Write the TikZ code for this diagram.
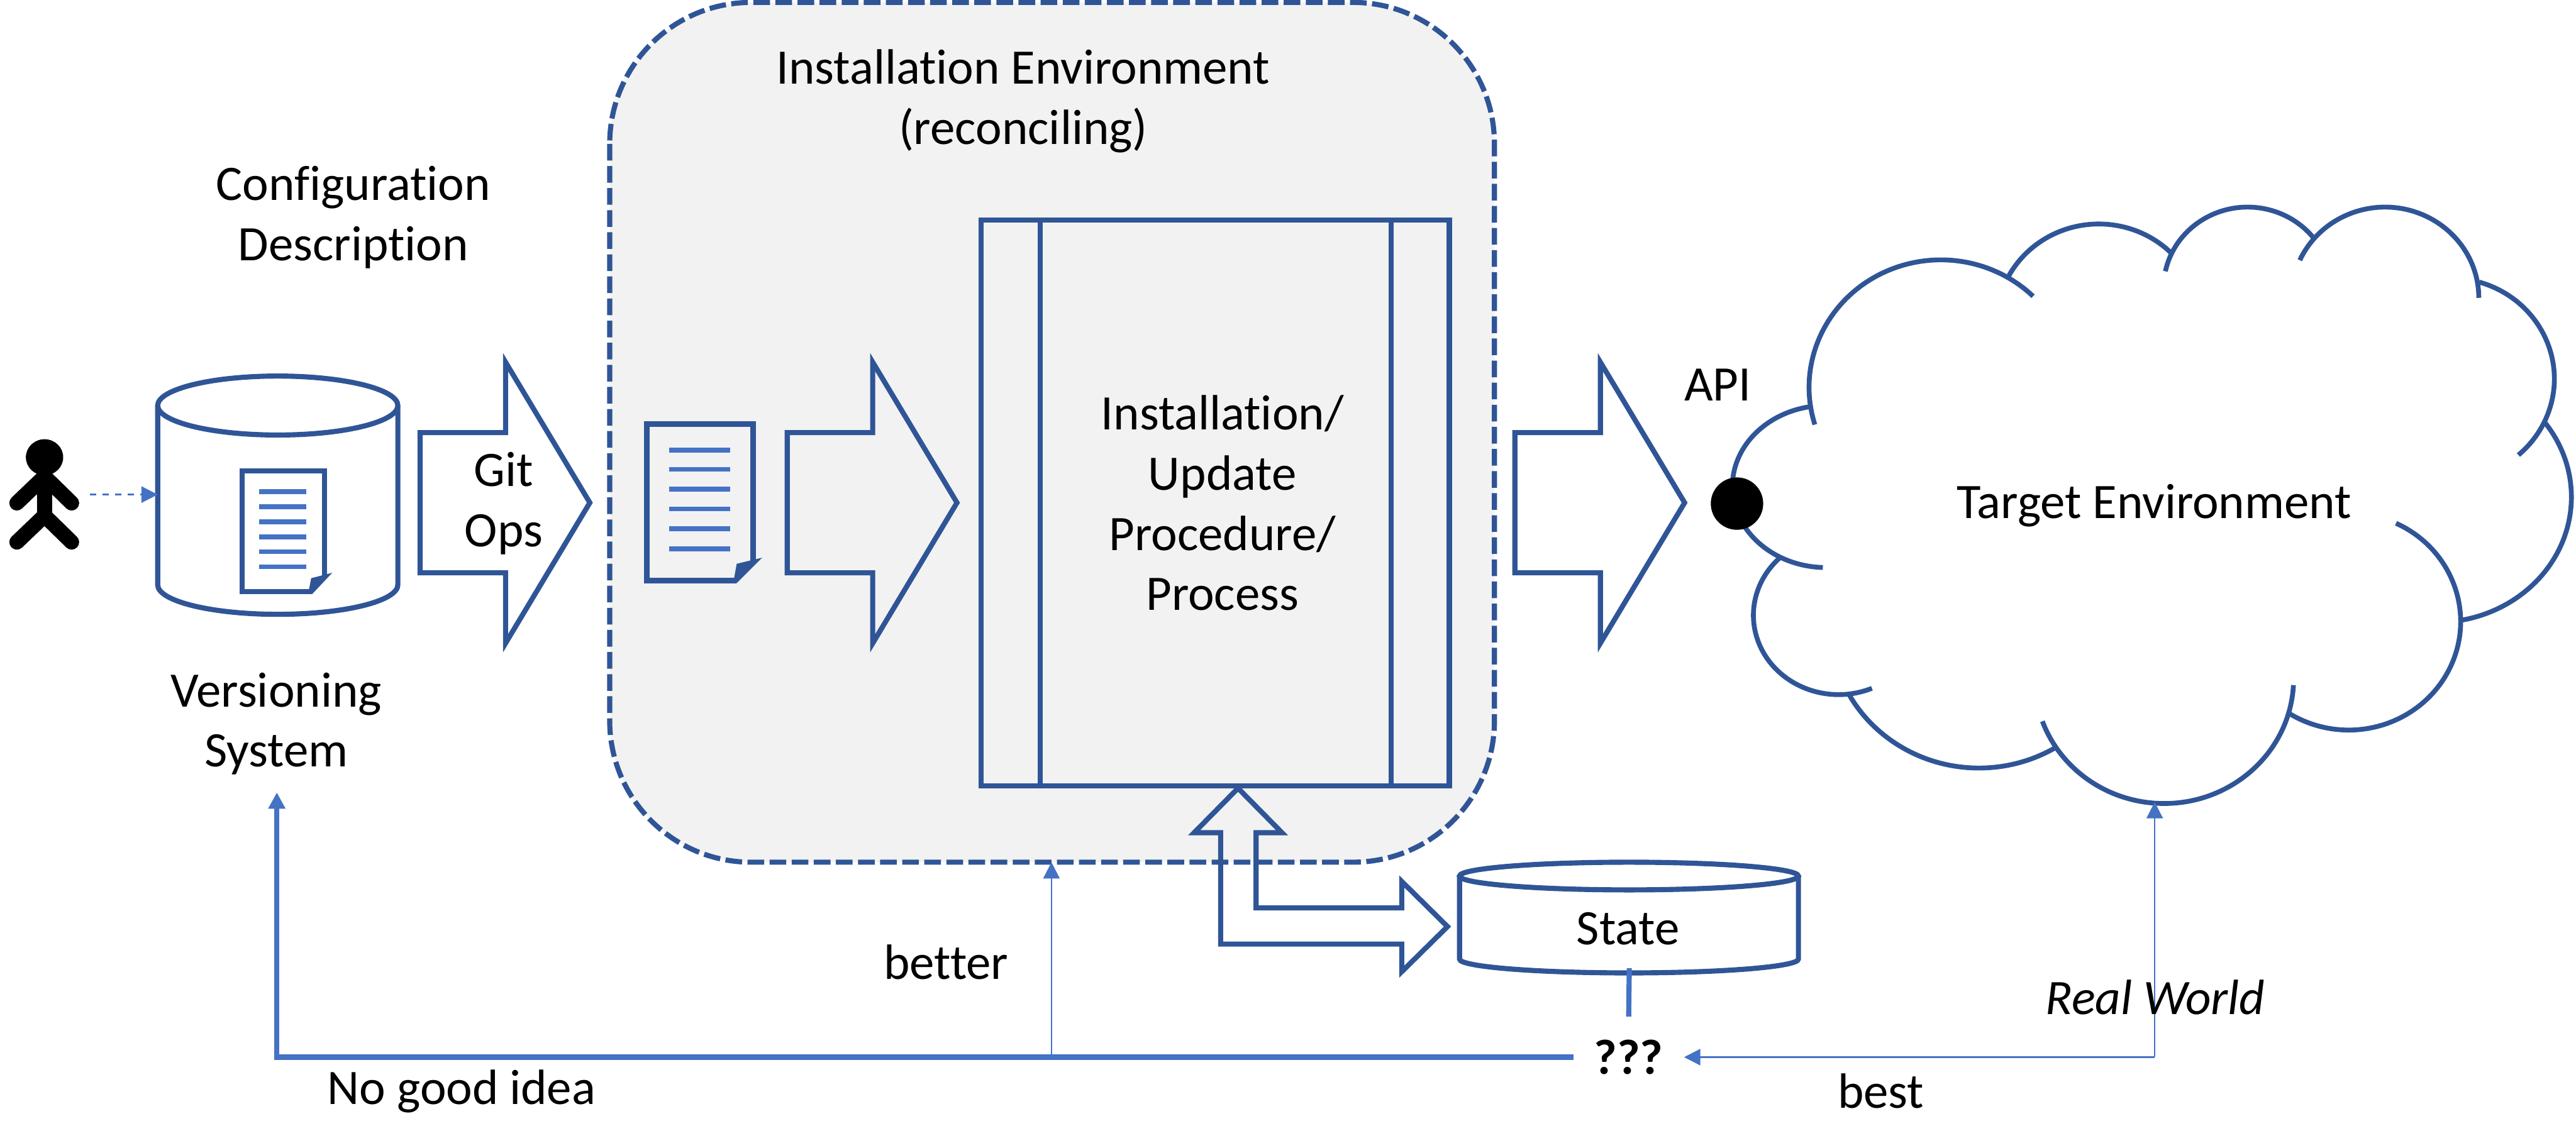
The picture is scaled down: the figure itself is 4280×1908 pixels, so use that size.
\documentclass[tikz,border=0pt]{standalone}
\usepackage{fontspec}
\setmainfont[Ligatures=NoCommon]{Carlito}
\usetikzlibrary{arrows.meta}
\definecolor{dkblue}{HTML}{2F5597}
\definecolor{ltblue}{HTML}{4472C4}
\definecolor{envgray}{HTML}{F2F2F2}
\tikzset{
  shapeline/.style={dkblue, line width=0.085cm},
  bluetip/.style={-{Triangle[length=0.27cm,width=0.27cm]}},
  thinlink/.style={ltblue, line width=0.025cm, bluetip},
  thicklink/.style={ltblue, line width=0.085cm},
  lbl/.style={font=\fontsize{23.45}{28.45}\selectfont, align=center, inner sep=0pt},
  docline/.style={ltblue, line width=0.08cm},
  cloudline/.style={dkblue, line width=0.08cm},
  figure/.style={line width=0.25cm, line cap=round, line join=round},
}
\begin{document}
\begin{tikzpicture}[x=0.01cm, y=-0.01cm]
  \useasboundingbox (0,0) rectangle (4280,1908);

  % installation environment
  \draw[shapeline, fill=envgray, dash pattern=on 0.277cm off 0.09cm, rounded corners=2.35cm]
    (1013,4) rectangle (2483,1433);
  \node[lbl] (envlabel) at (1700,168) {Installation Environment\\(reconciling)};

  % procedure box
  \draw[shapeline] (1630,366) rectangle (2408,1306);
  \draw[shapeline] (1728,366) -- (1728,1306);
  \draw[shapeline] (2311,366) -- (2311,1306);
  \node[lbl] (proc) at (2031,836) {Installation/\\Update\\Procedure/\\Process};

  % block arrows
  \foreach \x/\f in {698/white,1308/envgray,2517/white}
    \draw[shapeline, fill=\f, shift={(\x,0)}]
      (0,719) -- (142,719) -- (142,602) -- (282,835.5) -- (142,1069) -- (142,952) -- (0,952) -- cycle;
  \node[lbl] (gitops) at (837,837) {Git\\Ops};

  % versioning system
  \draw[shapeline] (461.5,674) ellipse (199.5 and 49);
  \draw[shapeline] (262,674) -- (262,972) arc (180:0:199.5 and 49) -- (661,674);
  \coordinate (vcsin) at (262,822);
  \draw[shapeline, fill=white] (519,983) -- (402,983) -- (402,783) -- (539,783) -- (539,958);
  \foreach \y in {817,842,867,892,917,942}
    \draw[docline] (431,\y) -- (509,\y);
  \fill[dkblue] (552,952) -- (517,961) -- (512,987) -- (519,987) -- cycle;
  \node[lbl] (vcslabel) at (459,1203) {Versioning\\System};
  \node[lbl] (conflabel) at (587,361) {Configuration\\Description};

  % person
  \fill (74,760) ellipse (31 and 30);
  \draw[figure] (28,836) -- (74,792) -- (119,836);
  \draw[figure] (28,901) -- (74,857) -- (119,901) (74,792) -- (74,857);
  \coordinate (person) at (149,822);
  \draw[ltblue, line width=0.03cm, dashed, bluetip] (person) -- (vcsin);

  % document in the environment
  \draw[shapeline, line width=0.09cm] (1224,965) -- (1074.5,965) -- (1074.5,704.5) -- (1251.5,704.5) -- (1251.5,933);
  \foreach \y in {748,780,813,846,879,912}
    \draw[docline] (1112,\y) -- (1213,\y);
  \fill[dkblue] (1266,927) -- (1224,937) -- (1219,965) -- (1224,969) -- cycle;

  % state
  \draw[shapeline] (2706.5,1456) ellipse (281.5 and 23);
  \draw[shapeline] (2425,1456) -- (2425,1594) arc (180:0:281.5 and 23) -- (2988,1456);
  \coordinate (stateout) at (2707,1609);
  \node[lbl] (statelabel) at (2705,1544) {State};

  % double arrow
  \draw[shapeline] (2057,1310) -- (2130,1384) -- (2087,1384) -- (2087,1509) -- (2329,1509)
    -- (2329,1465) -- (2405,1540) -- (2329,1615) -- (2329,1569) -- (2028,1569) -- (2028,1384) -- (1984,1384) -- cycle;

  % cloud
  \begin{scope}[shift={(2800,300)}, xscale=0.9438, yscale=0.7015]
    \foreach \cx/\cy/\rx/\ry/\a/\b in {450/490/232/302/163/314.4, 728/337/180/234/208/315,
        990/255/148/192/192/321.5, 1232/278/165/215/204.5/360, 1346/470/184/239/286.4/409,
        1322/750/238/297/-37/79.5, 1168/1045/197/257/-65/122, 843/1180/228/296/3/160,
        517/1052/262/340/59/151, 270/1030/150/188/67/227, 248/725/165/192/92/261}
      \draw[cloudline] (\cx,\cy) ++({\a}:{\rx} and {\ry}) arc[start angle=\a, end angle=\b, x radius=\rx, y radius=\ry];
  \end{scope}
  \node[circle, fill=black, minimum size=0.87cm, inner sep=0pt] (api) at (2886,837) {};
  \node[lbl] (apilabel) at (2854,640) {API};
  \node[lbl] (target) at (3579,840) {Target Environment};

  % feedback lines
  \node[lbl, font=\fontsize{23.45}{28.45}\selectfont\bfseries, inner xsep=0.34cm, inner ysep=0.38cm] (unknown) at (2706,1757) {???};
  \coordinate (vcsback) at (460,1317);
  \coordinate (envin) at (1747,1433);
  \coordinate (cloudin) at (3580,1333);
  \draw[thicklink] (stateout) -- (unknown.north);
  \draw[thicklink, bluetip] (unknown.west) -| (vcsback);
  \draw[thinlink] (envin |- unknown.west) -- (envin);
  \draw[thinlink] (cloudin |- unknown.east) -- (unknown.east);
  \draw[thinlink] (cloudin |- unknown.east) -- (cloudin);
  \node[lbl] (better) at (1572,1599) {better};
  \node[lbl] (nogood) at (767,1814) {No good idea};
  \node[lbl] (best) at (3125,1813) {best};
  \node[lbl, font=\fontsize{23.45}{28.45}\selectfont\itshape] (realworld) at (3581,1658) {Real World};
\end{tikzpicture}
\end{document}
